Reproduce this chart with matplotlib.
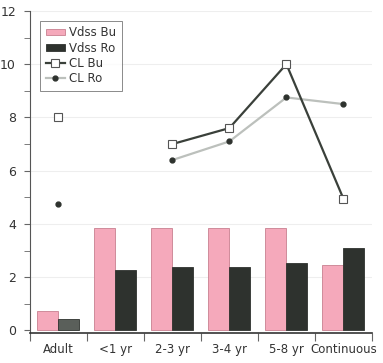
import matplotlib.pyplot as plt
from matplotlib.patches import Patch
import numpy as np

categories = ['Adult', '<1 yr', '2-3 yr', '3-4 yr', '5-8 yr', 'Continuous']
vdss_bu = [0.75, 3.85, 3.85, 3.85, 3.85, 2.45]
vdss_ro = [0.43, 2.27, 2.4, 2.4, 2.55, 3.1]
cl_bu = [8.0, np.nan, 7.0, 7.6, 10.0, 4.95]
cl_ro = [4.75, np.nan, 6.4, 7.1, 8.75, 8.5]

x = np.arange(len(categories))
w = 0.37

fig = plt.figure(figsize=(3.83, 3.63), dpi=100)
ax = fig.add_axes([0.078, 0.083, 0.893, 0.887])

# gridlines
for g in range(2, 13, 2):
    ax.axhline(g, color='#eeeeee', lw=0.8, zorder=0)

ro_colors = ['#5a5f5a'] + ['#2e322e'] * 5
ax.bar(x - w / 2, vdss_bu, w, color='#f5a9bb', edgecolor='#c88090', lw=0.6, zorder=2)
ax.bar(x + w / 2, vdss_ro, w, color=ro_colors, edgecolor='#2e322e', lw=0.6, zorder=2)

# CL lines: adult shown as isolated point, line from 2-3 yr onwards
l1, = ax.plot(x[2:], cl_bu[2:], color='#3a403a', lw=1.6, marker='s', ms=6,
              mfc='white', mec='#555555', mew=0.8, zorder=4)
ax.plot(x[:1], cl_bu[:1], ls='none', marker='s', ms=6,
        mfc='white', mec='#555555', mew=0.8, zorder=4)
l2, = ax.plot(x[2:], cl_ro[2:], color='#bcc0bc', lw=1.6, marker='o', ms=3.5,
              mfc='#2e322e', mec='#2e322e', zorder=3)
ax.plot(x[:1], cl_ro[:1], ls='none', marker='o', ms=3.5,
        mfc='#2e322e', mec='#2e322e', zorder=3)

ax.set_xlim(-0.5, 5.5)
ax.set_ylim(-0.09, 12)
ax.set_yticks(range(0, 13, 2))
ax.set_yticks(range(1, 12, 2), minor=True)
ax.tick_params(axis='y', which='both', length=4, color='#666666',
               labelsize=9, labelcolor='#333333', pad=6)

ax.set_xticks(np.arange(-0.5, 6, 1))
ax.set_xticklabels([])
ax.set_xticks(x, minor=True)
ax.set_xticklabels(categories, minor=True)
ax.tick_params(axis='x', which='major', length=6, color='#666666', direction='out')
ax.tick_params(axis='x', which='minor', length=0, labelsize=8.5,
               labelcolor='#333333', pad=7)

for s in ['top', 'right']:
    ax.spines[s].set_visible(False)
ax.spines['left'].set_color('#555555')
ax.spines['bottom'].set_color('#333333')
ax.spines['bottom'].set_linewidth(1.2)

p1 = Patch(facecolor='#f5a9bb', edgecolor='#c88090', lw=0.6)
p2 = Patch(facecolor='#2e322e', edgecolor='#2e322e', lw=0.6)
leg = ax.legend([p1, p2, l1, l2], ['Vdss Bu', 'Vdss Ro', 'CL Bu', 'CL Ro'],
                loc='upper left', bbox_to_anchor=(0.031, 0.969), fontsize=8.5,
                frameon=True, fancybox=False, edgecolor='#555555',
                handlelength=1.6, handleheight=0.5, labelspacing=0.2,
                borderpad=0.45, handletextpad=0.4, borderaxespad=0)
leg.get_frame().set_linewidth(0.6)
for t in leg.get_texts():
    t.set_color('#333333')

fig.savefig('out.png', dpi=100)
